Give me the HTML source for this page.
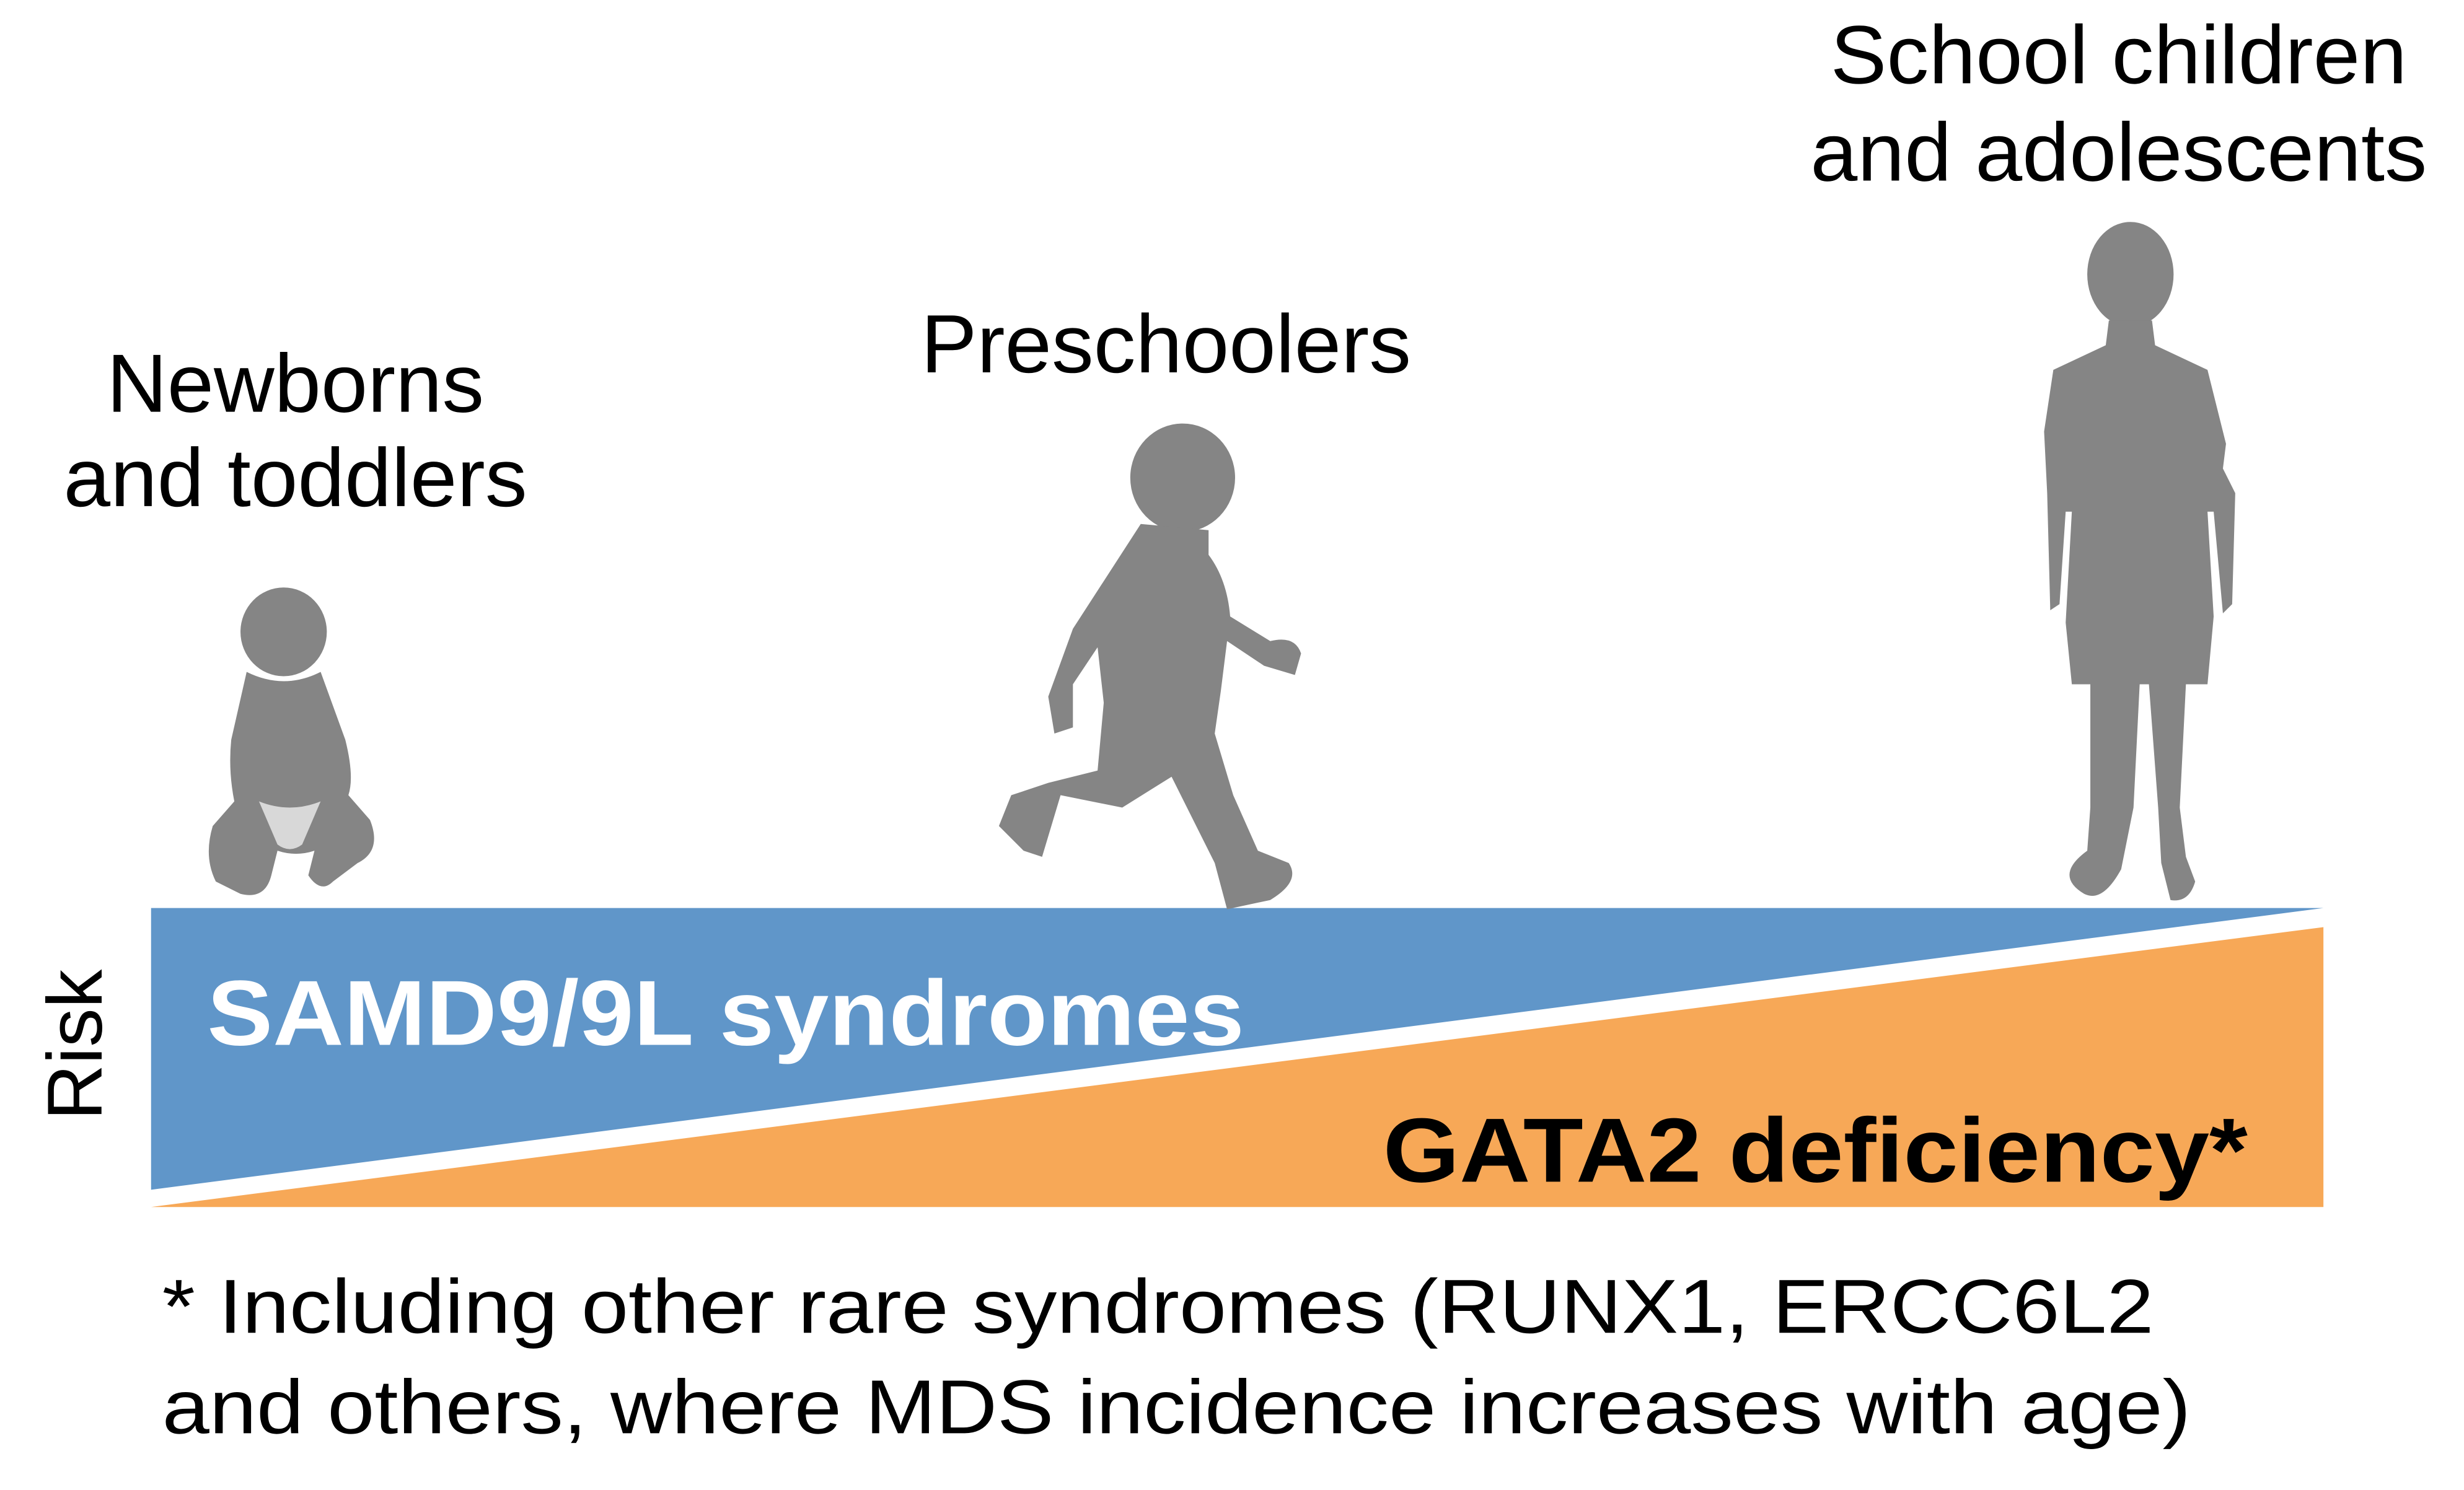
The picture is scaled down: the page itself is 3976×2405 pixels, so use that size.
<!DOCTYPE html>
<html><head><meta charset="utf-8"><style>html,body{margin:0;padding:0;background:#fff}svg{display:block}</style></head>
<body>
<svg width="3976" height="2405" viewBox="0 0 3976 2405" xmlns="http://www.w3.org/2000/svg" font-family="Liberation Sans, Arial, sans-serif">
<rect width="3976" height="2405" fill="#fff"/>
<g transform="scale(0.995)">
<!-- bands -->
<polygon points="245,1473 3768,1473 245,1930" fill="#6096c9"/>
<polygon points="245,1958 3768,1504 3768,1958" fill="#f7a857"/>
<!-- labels -->
<g font-size="134" fill="#000" text-anchor="middle">
<text x="479" y="668" textLength="612" lengthAdjust="spacingAndGlyphs">Newborns</text>
<text x="479" y="821" textLength="752" lengthAdjust="spacingAndGlyphs">and toddlers</text>
<text x="1891" y="604" textLength="795" lengthAdjust="spacingAndGlyphs">Preschoolers</text>
<text x="3436" y="135" textLength="935" lengthAdjust="spacingAndGlyphs">School children</text>
<text x="3436" y="293" textLength="1000" lengthAdjust="spacingAndGlyphs">and adolescents</text>
</g>
<text x="336" y="1695" font-size="150" font-weight="bold" fill="#fff" textLength="1682" lengthAdjust="spacingAndGlyphs">SAMD9/9L syndromes</text>
<text x="2243" y="1917" font-size="148" font-weight="bold" fill="#000" textLength="1402" lengthAdjust="spacingAndGlyphs">GATA2 deficiency*</text>
<text transform="translate(165,1695) rotate(-90)" font-size="126" text-anchor="middle" fill="#000">Risk</text>
<text x="263" y="2162" font-size="124" fill="#000" textLength="3230" lengthAdjust="spacingAndGlyphs">* Including other rare syndromes (RUNX1, ERCC6L2</text>
<text x="263" y="2325" font-size="124" fill="#000" textLength="3290" lengthAdjust="spacingAndGlyphs">and others, where MDS incidence increases with age)</text>
<!-- baby -->
<g fill="#858585">
<ellipse cx="460" cy="1025" rx="70" ry="72"/>
<path d="M400,1090 Q460,1120 520,1090 L560,1200 Q575,1260 565,1290 L600,1330 Q620,1380 580,1400 L540,1430 Q520,1450 500,1420 L510,1380 Q480,1390 450,1380 L440,1420 Q430,1460 390,1450 L350,1430 Q330,1390 345,1340 L380,1300 Q370,1250 375,1200 Z"/>
<path d="M420,1300 Q470,1320 520,1300 L490,1370 Q470,1385 450,1370 Z" fill="#d8d8d8"/>
</g>
<!-- preschooler -->
<g fill="#858585">
<ellipse cx="1918" cy="775" rx="85" ry="88"/>
<path d="M1850,850 L1960,860 L1960,900 Q1990,940 1995,1000 L2060,1040 Q2100,1030 2110,1060 L2100,1095 L2050,1080 L1990,1040 L1980,1120 L1970,1190 L2000,1290 L2040,1380 L2090,1400 Q2110,1430 2060,1460 L1990,1475 L1970,1400 L1900,1260 L1820,1310 L1720,1290 L1690,1390 L1660,1380 L1620,1340 L1640,1290 L1700,1270 L1780,1250 L1790,1140 L1780,1050 L1740,1110 L1740,1180 L1710,1190 L1700,1130 L1740,1020 Z"/>
</g>
<!-- teen -->
<g fill="#858585">
<ellipse cx="3455" cy="445" rx="70" ry="85"/>
<path d="M3420,520 L3490,520 L3495,560 L3580,600 L3610,720 L3605,760 L3625,800 L3620,980 L3605,995 L3590,830 L3580,830 L3590,1000 L3580,1110 L3545,1110 L3535,1310 L3545,1390 L3560,1430 Q3550,1465 3520,1460 L3505,1400 L3500,1310 L3485,1110 L3470,1110 L3460,1310 L3440,1410 Q3410,1465 3380,1450 Q3330,1420 3385,1380 L3390,1310 L3390,1110 L3360,1110 L3350,1010 L3360,830 L3350,830 L3340,980 L3325,990 L3320,800 L3315,700 L3330,600 L3415,560 Z"/>
</g>
</g>
</svg>
</body></html>
